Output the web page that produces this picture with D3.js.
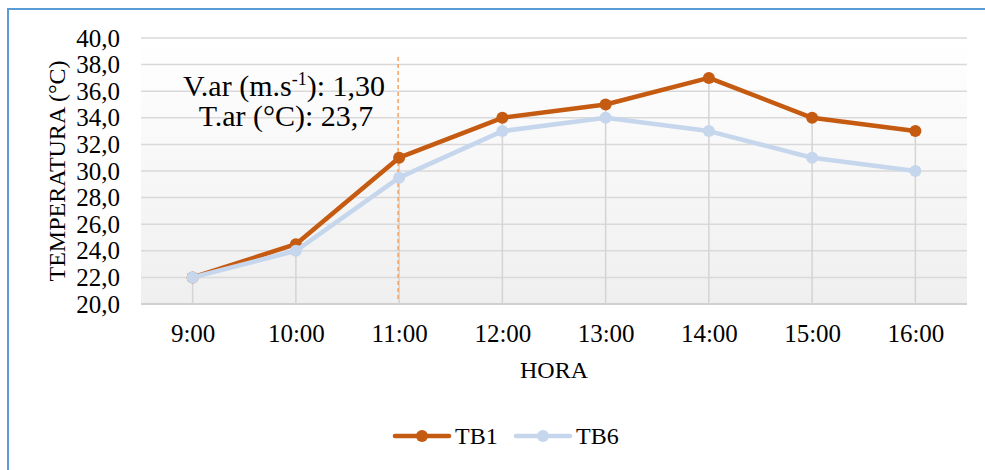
<!DOCTYPE html>
<html>
<head>
<meta charset="utf-8">
<script src="https://cdn.jsdelivr.net/npm/d3@7"></script>
<style>
  body { margin: 0; background: #fff; }
  svg { display: block; }
</style>
</head>
<body>
<div id="viz"></div>
<script>
// data
const horas = ["9:00", "10:00", "11:00", "12:00", "13:00", "14:00", "15:00", "16:00"];
const tb1 = [22.0, 24.5, 31.0, 34.0, 35.0, 37.0, 34.0, 33.0];
const tb6 = [22.0, 24.0, 29.5, 33.0, 34.0, 33.0, 31.0, 30.0];
const yTicks = [20, 22, 24, 26, 28, 30, 32, 34, 36, 38, 40];
const marcaHora = "11:00"; // dashed marker
const nota = ["V.ar (m.s", "-1", "): 1,30"];
const nota2 = "T.ar (°C): 23,7";

function draw() {
	const W = 985, H = 470;
	const left = 141, right = 967, top = 38, bottom = 304;
	const serif = "'Liberation Serif', 'Times New Roman', serif";

	let svg = d3.select("#viz").append("svg")
		.attr("width", W).attr("height", H);

	// outer frame
	svg.append("rect")
		.attr("x", 8).attr("y", 9)
		.attr("width", 1000).attr("height", 500)
		.style("fill", "none")
		.style("stroke", "#5b9bd5")
		.style("stroke-width", 2);

	let defs = svg.append("defs");
	let grad = defs.append("linearGradient")
		.attr("id", "bg").attr("x1", 0).attr("y1", 0).attr("x2", 0).attr("y2", 1);
	grad.append("stop").attr("offset", "0%").attr("stop-color", "#ffffff");
	grad.append("stop").attr("offset", "100%").attr("stop-color", "#efefef");

	let x = d3.scalePoint().domain(horas).range([left, right]).padding(0.5);
	let y = d3.scaleLinear().domain([20, 40]).range([bottom, top]);

	svg.append("rect")
		.attr("x", left).attr("y", top)
		.attr("width", right - left).attr("height", bottom - top)
		.style("fill", "url(#bg)");

	// horizontal gridlines
	svg.append("g").selectAll("line").data(yTicks).join("line")
		.attr("x1", left).attr("x2", right)
		.attr("y1", d => y(d)).attr("y2", d => y(d))
		.attr("stroke", d => d === 20 ? "#d0d0d0" : "#d9d9d9")
		.attr("stroke-width", d => d === 20 ? 2 : 1.5);

	// drop lines
	svg.append("g").selectAll("line").data(horas).join("line")
		.attr("x1", d => x(d)).attr("x2", d => x(d))
		.attr("y1", (d, i) => y(Math.max(tb1[i], tb6[i])))
		.attr("y2", bottom)
		.attr("stroke", "#d4d4d4")
		.attr("stroke-width", 1.5);

	// y tick labels
	let yAxis = svg.append("g")
		.attr("transform", "translate(" + (left - 21) + ",0)")
		.call(d3.axisLeft(y).tickValues(yTicks).tickSize(0).tickPadding(0)
			.tickFormat(d => d3.format(".1f")(d).replace(".", ",")));
	yAxis.select(".domain").remove();
	yAxis.selectAll("text")
		.style("font-family", serif).style("font-size", "25px")
		.style("fill", "#000");

	// x tick labels
	let xAxis = svg.append("g")
		.attr("transform", "translate(0," + bottom + ")")
		.call(d3.axisBottom(x).tickSize(0).tickPadding(20));
	xAxis.select(".domain").remove();
	xAxis.selectAll("text")
		.style("font-family", serif).style("font-size", "25px")
		.style("fill", "#000");

	// axis titles
	svg.append("text").text("HORA")
		.attr("x", (left + right) / 2).attr("y", 378)
		.attr("text-anchor", "middle")
		.style("font-family", serif).style("font-size", "24px");

	svg.append("text").text("TEMPERATURA (°C)")
		.attr("transform", "translate(65," + ((top + bottom) / 2) + ") rotate(-90)")
		.attr("text-anchor", "middle")
		.style("font-family", serif).style("font-size", "24px");

	// dashed marker line
	svg.append("line")
		.attr("x1", x(marcaHora) - 1).attr("x2", x(marcaHora) - 1)
		.attr("y1", 57).attr("y2", 302)
		.attr("stroke", "#f4a260")
		.attr("stroke-width", 1.5)
		.attr("stroke-dasharray", "4,3");

	// annotation
	let t1 = svg.append("text")
		.attr("x", 284).attr("y", 96)
		.attr("text-anchor", "middle")
		.style("font-family", serif).style("font-size", "30px");
	t1.append("tspan").text(nota[0]);
	t1.append("tspan").text(nota[1]).attr("dy", -11).style("font-size", "18px");
	t1.append("tspan").text(nota[2]).attr("dy", 11);

	svg.append("text").text(nota2)
		.attr("x", 286).attr("y", 126)
		.attr("text-anchor", "middle")
		.style("font-family", serif).style("font-size", "30px");

	// series
	const series = [
		{ name: "TB1", values: tb1, color: "#c55a11" },
		{ name: "TB6", values: tb6, color: "#c6d6ec" }
	];
	let line = d3.line().x((d, i) => x(horas[i])).y(d => y(d));

	series.forEach(s => {
		svg.append("path")
			.datum(s.values)
			.attr("d", line)
			.style("fill", "none")
			.style("stroke", s.color)
			.style("stroke-width", 4.5)
			.style("stroke-linejoin", "round");
		svg.append("g").selectAll("circle").data(s.values).join("circle")
			.attr("cx", (d, i) => x(horas[i]))
			.attr("cy", d => y(d))
			.attr("r", 6)
			.style("fill", s.color);
	});

	// legend
	const legX = [395, 516];
	series.forEach((s, i) => {
		let g = svg.append("g").attr("transform", "translate(" + legX[i] + ",436)");
		g.append("line")
			.attr("x1", 0).attr("x2", 54)
			.attr("stroke", s.color).attr("stroke-width", 4.5)
			.attr("stroke-linecap", "round");
		g.append("circle").attr("cx", 27).attr("r", 6).style("fill", s.color);
		g.append("text").text(s.name)
			.attr("x", 60).attr("y", 8)
			.style("font-family", serif).style("font-size", "24px");
	});
}

draw();
</script>
</body>
</html>
